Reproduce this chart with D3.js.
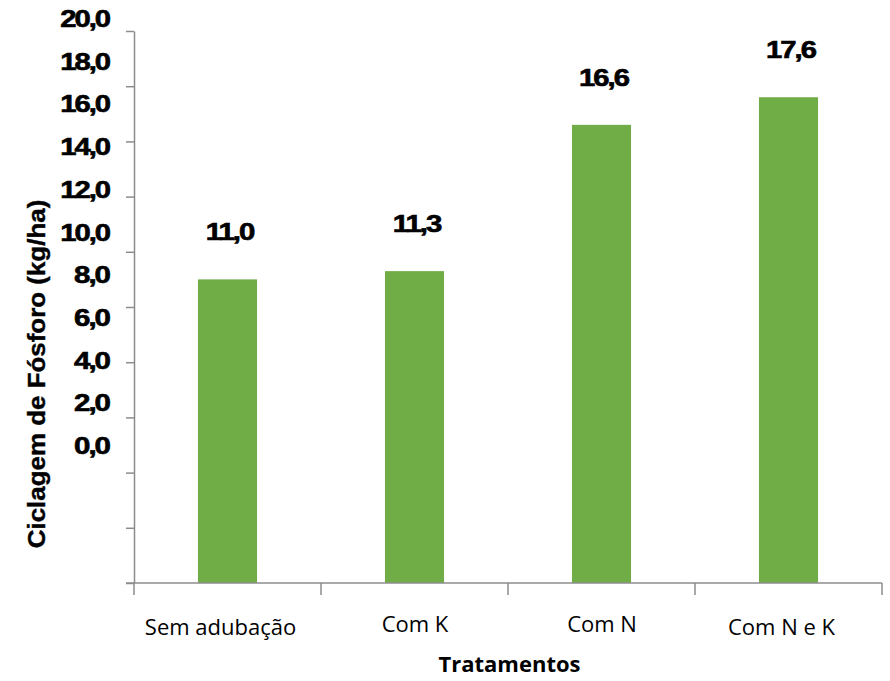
<!DOCTYPE html>
<html>
<head>
<meta charset="utf-8">
<script src="https://cdn.jsdelivr.net/npm/d3@7"></script>
<style>
  html, body { margin: 0; padding: 0; background: #fff; }
  svg { display: block; }
</style>
</head>
<body>
<svg id="chart" width="890" height="681"></svg>
<script>
// Ciclagem de fósforo por tratamento
const categories = ["Sem adubação", "Com K", "Com N", "Com N e K"];
const values = [11.0, 11.3, 16.6, 17.6];
const valueLabels = ["11,0", "11,3", "16,6", "17,6"];
const yTicks = [0, 2, 4, 6, 8, 10, 12, 14, 16, 18, 20];
const yTickLabels = ["0,0", "2,0", "4,0", "6,0", "8,0", "10,0", "12,0", "14,0", "16,0", "18,0", "20,0"];

const svg = d3.select("#chart");
const axisColor = "#8c8c8c";
const barColor = "#70ad47";
const boldFont = "'Liberation Sans', Arial, sans-serif";
const labelFont = "'Open Sans', 'Noto Sans', sans-serif";

const x = d3.scaleBand().domain(categories).range([134, 882]).padding(0);
const y = d3.scaleLinear().domain([0, 20]).range([583, 31]);
// tick labels sit on their own, more compact scale
const yLabel = d3.scaleLinear().domain([0, 20]).range([454, 27]);

// widen text horizontally; optional tight tracking keeps glyphs touching
function stretch(sel, k, tracking) {
  sel.each(function () {
    const t = d3.select(this);
    const target = this.getComputedTextLength() * k;
    if (tracking) t.attr("letter-spacing", tracking);
    t.attr("textLength", target).attr("lengthAdjust", "spacingAndGlyphs");
  });
}

// heavy bold numerals
function heavy(sel, size, k) {
  sel.attr("font-family", boldFont)
    .attr("font-weight", "bold")
    .attr("font-size", size)
    .attr("fill", "#000")
    .attr("stroke", "#000")
    .attr("stroke-width", 0.6)
    .call(stretch, k, -1.6);
}

// bars
const barW = x.bandwidth() * 0.316;
svg.append("g").selectAll("rect")
  .data(values)
  .join("rect")
  .attr("x", (d, i) => x(categories[i]) + x.bandwidth() / 2 - barW / 2)
  .attr("y", d => y(d))
  .attr("width", barW)
  .attr("height", d => y(0) - y(d))
  .attr("fill", barColor);

// y axis (line and ticks)
const yAxis = svg.append("g")
  .attr("transform", "translate(134,0)")
  .call(d3.axisLeft(y).tickValues(yTicks).tickSize(8).tickSizeOuter(0).tickFormat(""));
yAxis.selectAll("path, line").attr("stroke", axisColor).attr("stroke-width", 1.5);

// y tick labels
svg.append("g").selectAll("text")
  .data(yTicks)
  .join("text")
  .attr("x", 109)
  .attr("y", d => yLabel(d))
  .attr("text-anchor", "end")
  .text((d, i) => yTickLabels[i])
  .call(heavy, 23, 1.09);

// x axis line and category separators
const xAxis = svg.append("g");
xAxis.append("line")
  .attr("x1", 126).attr("x2", x.range()[1])
  .attr("y1", y(0)).attr("y2", y(0))
  .attr("stroke", axisColor).attr("stroke-width", 1.5);
const bounds = categories.map(c => x(c)).concat([x.range()[1]]);
xAxis.selectAll("line.sep")
  .data(bounds)
  .join("line")
  .attr("class", "sep")
  .attr("x1", d => d).attr("x2", d => d)
  .attr("y1", y(0)).attr("y2", y(0) + 12)
  .attr("stroke", axisColor).attr("stroke-width", 1.5);

// category labels: outer pair sits a little lower and left
const outer = i => i === 0 || i === categories.length - 1;
svg.append("g").selectAll("text")
  .data(categories)
  .join("text")
  .attr("x", (d, i) => x(d) + x.bandwidth() / 2 + (outer(i) ? -7 : 0.5))
  .attr("y", (d, i) => outer(i) ? 635 : 632)
  .attr("text-anchor", "middle")
  .attr("font-family", labelFont)
  .attr("font-size", 22)
  .attr("fill", "#000")
  .text(d => d);

// value labels above bars
svg.append("g").selectAll("text")
  .data(values)
  .join("text")
  .attr("x", (d, i) => x(categories[i]) + x.bandwidth() / 2 + 2)
  .attr("y", d => y(d) - 39)
  .attr("text-anchor", "middle")
  .text((d, i) => valueLabels[i])
  .call(heavy, 23, 1.09);

// axis titles
svg.append("text")
  .attr("transform", "translate(45,374) rotate(-90)")
  .attr("text-anchor", "middle")
  .attr("font-family", boldFont)
  .attr("font-weight", "bold")
  .attr("font-size", 24)
  .attr("fill", "#000")
  .attr("stroke", "#000")
  .attr("stroke-width", 0.4)
  .text("Ciclagem de Fósforo (kg/ha)")
  .call(stretch, 1.08);

svg.append("text")
  .attr("x", 509.5)
  .attr("y", 672)
  .attr("text-anchor", "middle")
  .attr("font-family", labelFont)
  .attr("font-weight", "bold")
  .attr("font-size", 22)
  .attr("fill", "#000")
  .text("Tratamentos");
</script>
</body>
</html>
